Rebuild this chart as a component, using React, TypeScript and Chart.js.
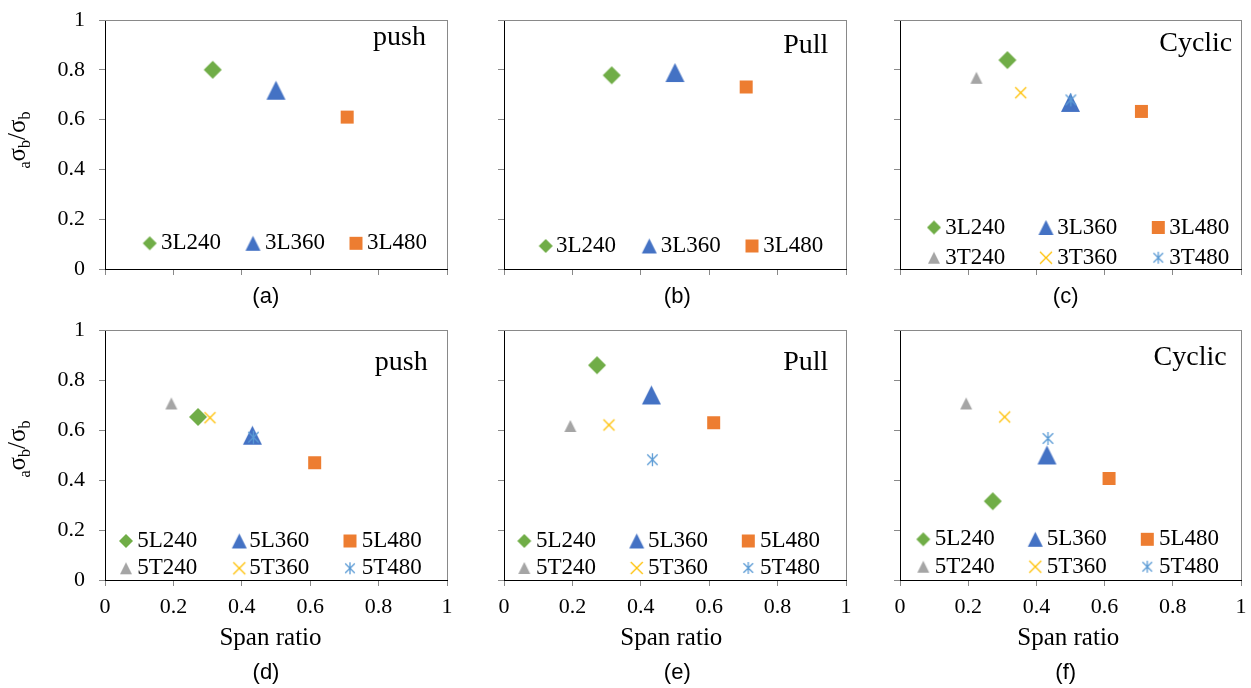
import React, { useEffect, useRef } from "react";
import { Chart, registerables } from "chart.js";

Chart.register(...registerables);

const W = 1251;
const H = 688;

// ---------------- data ----------------
const axisTicks = [0, 0.2, 0.4, 0.6, 0.8, 1];
const tickLabels = ["0", "0.2", "0.4", "0.6", "0.8", "1"];

const names3L = ["3L240", "3L360", "3L480"];
const names3T = ["3T240", "3T360", "3T480"];
const names5L = ["5L240", "5L360", "5L480"];
const names5T = ["5T240", "5T360", "5T480"];

const span3L = [0.315, 0.5, 0.708];
const span3T = [0.224, 0.354, 0.501];
const span5L = [0.272, 0.431, 0.613];
const span5T = [0.194, 0.307, 0.434];

const push3L = [0.8, 0.718, 0.61];
const pull3L = [0.778, 0.789, 0.731];
const cyclic3L = [0.839, 0.669, 0.633];
const cyclic3T = [0.768, 0.708, 0.679];

const push5L = [0.652, 0.579, 0.469];
const push5T = [0.706, 0.649, 0.571];
const pull5L = [0.859, 0.74, 0.629];
const pull5T = [0.616, 0.62, 0.481];
const cyclic5L = [0.315, 0.5, 0.406];
const cyclic5T = [0.706, 0.652, 0.566];

const panelNotes = ["push", "Pull", "Cyclic", "push", "Pull", "Cyclic"];
const panelLetters = ["(a)", "(b)", "(c)", "(d)", "(e)", "(f)"];
const xTitle = "Span ratio";

type Group = { names: string[]; x: number[]; y: number[]; kind: "L" | "T" };

const panelGroups: Group[][] = [
  [{ names: names3L, x: span3L, y: push3L, kind: "L" }],
  [{ names: names3L, x: span3L, y: pull3L, kind: "L" }],
  [
    { names: names3L, x: span3L, y: cyclic3L, kind: "L" },
    { names: names3T, x: span3T, y: cyclic3T, kind: "T" },
  ],
  [
    { names: names5L, x: span5L, y: push5L, kind: "L" },
    { names: names5T, x: span5T, y: push5T, kind: "T" },
  ],
  [
    { names: names5L, x: span5L, y: pull5L, kind: "L" },
    { names: names5T, x: span5T, y: pull5T, kind: "T" },
  ],
  [
    { names: names5L, x: span5L, y: cyclic5L, kind: "L" },
    { names: names5T, x: span5T, y: cyclic5T, kind: "T" },
  ],
];

// ---------------- styles ----------------
const markerStyles = {
  L: [
    { shape: "diamond", color: "#70AD47", size: 18, legendSize: 14 },
    { shape: "triangle", color: "#4472C4", size: 19, legendSize: 15 },
    { shape: "square", color: "#ED7D31", size: 13, legendSize: 13 },
  ],
  T: [
    { shape: "triangle", color: "#A5A5A5", size: 12, legendSize: 12 },
    { shape: "x", color: "#FFC000", size: 11, legendSize: 12 },
    { shape: "asterisk", color: "#5B9BD5", size: 13, legendSize: 12 },
  ],
};

type Layout = {
  L: number; T: number; R: number; B: number;
  yLab: boolean; xLab: boolean;
  note: [number, number];
  letter: [number, number];
  xTitle?: [number, number];
  yTitleY?: number;
  legX: number[]; legT: number[]; legY: number[];
};

const layouts: Layout[] = [
  { L: 105, T: 20, R: 447, B: 269, yLab: true, xLab: false, note: [426, 45], letter: [265.8, 296.7], yTitleY: 140,
    legX: [149.7, 253, 356], legT: [161, 265, 367], legY: [243.3] },
  { L: 504, T: 20, R: 846, B: 269, yLab: false, xLab: false, note: [828.3, 53.3], letter: [677.3, 296.7],
    legX: [545.7, 649.3, 752], legT: [556, 660.7, 763.3], legY: [246] },
  { L: 900, T: 20, R: 1242, B: 269, yLab: false, xLab: false, note: [1232.3, 50.7], letter: [1065.7, 296.7],
    legX: [934, 1046, 1158.3], legT: [945.3, 1057.3, 1169.3], legY: [227.5, 257.7] },
  { L: 105, T: 330, R: 447, B: 580, yLab: true, xLab: true, note: [427.7, 370], letter: [266, 673.3], xTitle: [270.5, 638.5], yTitleY: 449,
    legX: [126, 239.3, 350], legT: [137.3, 249.3, 361.7], legY: [541, 568.3] },
  { L: 504, T: 330, R: 846, B: 580, yLab: false, xLab: true, note: [828.3, 370], letter: [677.3, 673.3], xTitle: [671.3, 638.5],
    legX: [524.3, 636.7, 748.3], legT: [536, 648, 760], legY: [541, 568] },
  { L: 900, T: 330, R: 1242, B: 580, yLab: false, xLab: true, note: [1226.7, 365], letter: [1065.7, 673.3], xTitle: [1068.3, 638.5],
    legX: [923.3, 1035.3, 1147.3], legT: [934.7, 1046.7, 1159], legY: [539.3, 566.7] },
];

const SERIF = '"Liberation Serif", "Times New Roman", serif';
const SANS = '"Liberation Sans", Arial, sans-serif';
const Y_AXIS_W = 100;
const X_AXIS_H = 80;

function makeMarker(shape: string, color: string, size: number): HTMLCanvasElement {
  const dim = Math.ceil(size) + 4;
  const c = document.createElement("canvas");
  c.width = dim;
  c.height = dim;
  const ctx = c.getContext("2d")!;
  const m = dim / 2;
  const h = size / 2;
  ctx.fillStyle = color;
  ctx.strokeStyle = color;
  ctx.lineWidth = 1.3;
  ctx.beginPath();
  if (shape === "diamond") {
    ctx.moveTo(m, m - h);
    ctx.lineTo(m + h, m);
    ctx.lineTo(m, m + h);
    ctx.lineTo(m - h, m);
    ctx.closePath();
    ctx.fill();
  } else if (shape === "triangle") {
    ctx.moveTo(m, m - h);
    ctx.lineTo(m + h, m + h);
    ctx.lineTo(m - h, m + h);
    ctx.closePath();
    ctx.fill();
  } else if (shape === "square") {
    ctx.rect(m - h, m - h, size, size);
    ctx.fill();
  } else if (shape === "x") {
    ctx.moveTo(m - h, m - h);
    ctx.lineTo(m + h, m + h);
    ctx.moveTo(m + h, m - h);
    ctx.lineTo(m - h, m + h);
    ctx.stroke();
  } else if (shape === "asterisk") {
    const d = h * 0.8;
    ctx.moveTo(m - d, m - d);
    ctx.lineTo(m + d, m + d);
    ctx.moveTo(m + d, m - d);
    ctx.lineTo(m - d, m + d);
    ctx.moveTo(m, m - h);
    ctx.lineTo(m, m + h);
    ctx.stroke();
  }
  return c;
}

function drawYTitle(ctx: CanvasRenderingContext2D, cx: number, cy: number) {
  const parts = [
    { t: "a", sub: true },
    { t: "σ", sub: false },
    { t: "b", sub: true },
    { t: "/", sub: false },
    { t: "σ", sub: false },
    { t: "b", sub: true },
  ];
  const main = `25px ${SERIF}`;
  const small = `16px ${SERIF}`;
  ctx.save();
  ctx.translate(cx, cy);
  ctx.rotate(-Math.PI / 2);
  ctx.fillStyle = "#000";
  ctx.textBaseline = "alphabetic";
  ctx.textAlign = "left";
  let total = 0;
  for (const p of parts) {
    ctx.font = p.sub ? small : main;
    total += ctx.measureText(p.t).width;
  }
  let x = -total / 2;
  for (const p of parts) {
    ctx.font = p.sub ? small : main;
    ctx.fillText(p.t, x, p.sub ? 5 : 0);
    x += ctx.measureText(p.t).width;
  }
  ctx.restore();
}

function Panel({ idx }: { idx: number }) {
  const ref = useRef<HTMLCanvasElement>(null);

  useEffect(() => {
    const lay = layouts[idx];
    const groups = panelGroups[idx];

    const datasets: any[] = [];
    groups.forEach((g, gi) => {
      g.names.forEach((name, i) => {
        const st = markerStyles[g.kind][i];
        datasets.push({
          label: name,
          data: [{ x: g.x[i], y: g.y[i] }],
          pointStyle: makeMarker(st.shape, st.color, st.size),
          pointRadius: 9,
          backgroundColor: st.color,
          borderColor: st.color,
          order: -(gi * 3 + i),
        });
      });
    });

    const legendMarkers = groups.map((g) =>
      g.names.map((_, i) => {
        const st = markerStyles[g.kind][i];
        return makeMarker(st.shape, st.color, st.legendSize);
      })
    );

    const decor = {
      id: "decor",
      beforeDatasetsDraw(chart: any) {
        const { ctx, chartArea: a } = chart;
        ctx.save();
        ctx.strokeStyle = "#898989";
        ctx.lineWidth = 1;
        ctx.beginPath();
        ctx.moveTo(a.left, a.top + 0.5);
        ctx.lineTo(a.right + 0.5, a.top + 0.5);
        ctx.moveTo(a.right + 0.5, a.top);
        ctx.lineTo(a.right + 0.5, a.bottom);
        ctx.stroke();
        ctx.restore();
      },
      afterDraw(chart: any) {
        const ctx: CanvasRenderingContext2D = chart.ctx;
        ctx.save();
        ctx.fillStyle = "#000";
        // annotation
        ctx.font = `28px ${SERIF}`;
        ctx.textAlign = "right";
        ctx.textBaseline = "alphabetic";
        ctx.fillText(panelNotes[idx], lay.note[0], lay.note[1]);
        // legend
        ctx.font = `23px ${SERIF}`;
        ctx.textAlign = "left";
        ctx.textBaseline = "middle";
        groups.forEach((g, gi) => {
          const y = lay.legY[gi];
          g.names.forEach((name, i) => {
            const mk = legendMarkers[gi][i];
            ctx.drawImage(mk, lay.legX[i] - mk.width / 2, y - mk.height / 2);
            ctx.fillText(name, lay.legT[i], y);
          });
        });
        // panel letter
        ctx.font = `22px ${SANS}`;
        ctx.textAlign = "center";
        ctx.textBaseline = "middle";
        ctx.fillText(panelLetters[idx], lay.letter[0], lay.letter[1]);
        // x title
        if (lay.xTitle) {
          ctx.font = `25px ${SERIF}`;
          ctx.fillText(xTitle, lay.xTitle[0], lay.xTitle[1]);
        }
        ctx.restore();
        if (lay.yTitleY !== undefined) drawYTitle(ctx, 25, lay.yTitleY);
      },
    };

    const tickFont = { family: SERIF, size: 22 };

    const chart = new Chart(ref.current!, {
      type: "scatter",
      data: { datasets },
      options: {
        animation: false,
        responsive: false,
        devicePixelRatio: 1,
        events: [],
        layout: {
          padding: { left: lay.L - Y_AXIS_W, top: lay.T, right: W - lay.R, bottom: H - lay.B - X_AXIS_H },
        },
        plugins: { legend: { display: false }, tooltip: { enabled: false } },
        scales: {
          x: {
            type: "linear",
            min: 0,
            max: 1,
            afterBuildTicks: (s: any) => {
              s.ticks = axisTicks.map((v) => ({ value: v }));
            },
            afterFit: (s: any) => {
              s.height = X_AXIS_H;
              s.paddingLeft = 0;
              s.paddingRight = 0;
            },
            ticks: {
              display: lay.xLab,
              autoSkip: false,
              maxRotation: 0,
              padding: 8,
              color: "#000",
              font: tickFont,
              callback: (_v: any, i: number) => tickLabels[i],
            },
            grid: { drawOnChartArea: false, drawTicks: true, tickLength: 6, color: "#898989" },
            border: { display: true, color: "#000", width: 1 },
          },
          y: {
            type: "linear",
            min: 0,
            max: 1,
            afterBuildTicks: (s: any) => {
              s.ticks = axisTicks.map((v) => ({ value: v }));
            },
            afterFit: (s: any) => {
              s.width = Y_AXIS_W;
              s.paddingTop = 0;
              s.paddingBottom = 0;
            },
            ticks: {
              display: lay.yLab,
              autoSkip: false,
              padding: 14,
              color: "#000",
              font: tickFont,
              callback: (_v: any, i: number) => tickLabels[i],
            },
            grid: { drawOnChartArea: false, drawTicks: true, tickLength: 6, color: "#898989" },
            border: { display: true, color: "#000", width: 1 },
          },
        },
      },
      plugins: [decor],
    } as any);

    return () => chart.destroy();
  }, [idx]);

  return (
    <canvas
      ref={ref}
      width={W}
      height={H}
      style={{ position: "absolute", left: 0, top: 0, width: W, height: H, pointerEvents: "none" }}
    />
  );
}

export default function App() {
  return (
    <div style={{ position: "fixed", left: 0, top: 0, width: W, height: H, background: "#fff", overflow: "hidden" }}>
      {layouts.map((_, i) => (
        <Panel key={i} idx={i} />
      ))}
    </div>
  );
}
